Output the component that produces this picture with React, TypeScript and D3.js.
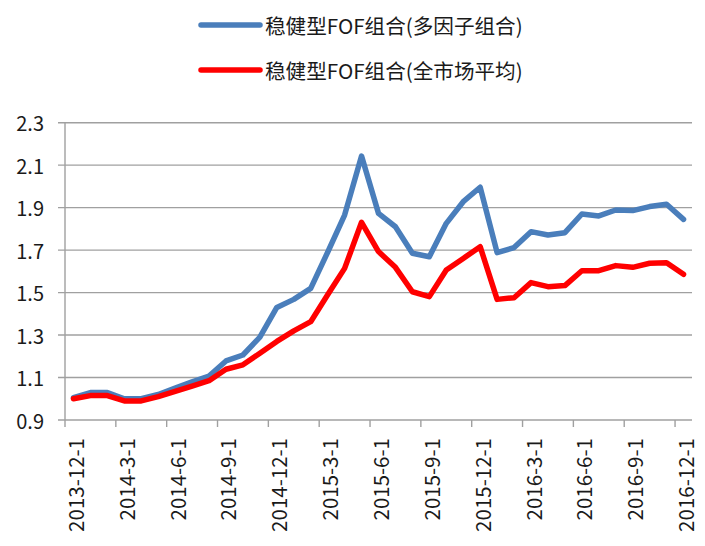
import React from "react";
import * as d3 from "d3";

const months = [
  "2013-12-1","2014-1-1","2014-2-1","2014-3-1","2014-4-1","2014-5-1","2014-6-1","2014-7-1","2014-8-1","2014-9-1","2014-10-1","2014-11-1",
  "2014-12-1","2015-1-1","2015-2-1","2015-3-1","2015-4-1","2015-5-1","2015-6-1","2015-7-1","2015-8-1","2015-9-1","2015-10-1","2015-11-1",
  "2015-12-1","2016-1-1","2016-2-1","2016-3-1","2016-4-1","2016-5-1","2016-6-1","2016-7-1","2016-8-1","2016-9-1","2016-10-1","2016-11-1",
  "2016-12-1",
];

const multiFactor = [
  1.005, 1.029, 1.029, 1.0, 1.0, 1.02, 1.05, 1.08, 1.107, 1.178, 1.206, 1.29,
  1.43, 1.468, 1.52, 1.69, 1.865, 2.143, 1.873, 1.81, 1.685, 1.669, 1.826, 1.928,
  1.996, 1.688, 1.712, 1.787, 1.771, 1.782, 1.87, 1.861, 1.889, 1.886, 1.905, 1.916,
  1.845,
];

const marketAvg = [
  1.0, 1.015, 1.015, 0.99, 0.99, 1.01, 1.035, 1.06, 1.085, 1.139, 1.16, 1.214,
  1.27, 1.32, 1.363, 1.49, 1.614, 1.831, 1.693, 1.619, 1.504, 1.481, 1.606, 1.661,
  1.716, 1.468, 1.476, 1.547, 1.528, 1.533, 1.603, 1.603, 1.627, 1.619, 1.638, 1.641,
  1.586,
];

const yTicks = [0.9, 1.1, 1.3, 1.5, 1.7, 1.9, 2.1, 2.3];

const seriesNames = ["稳健型FOF组合(多因子组合)", "稳健型FOF组合(全市场平均)"];
const seriesColors = ["#4A7EBB", "#FF0000"];

export default function App() {
  const W = 705, H = 546;
  const left = 65, right = 692, top = 122.7, bottom = 420;
  const font = "'Noto Sans CJK SC', 'Noto Sans', sans-serif";

  const x = d3.scaleBand<string>().domain(months).range([left, right]).paddingInner(0).paddingOuter(0);
  const y = d3.scaleLinear().domain([0.9, 2.3]).range([bottom, top]);
  const cx = (m: string) => (x(m) as number) + x.bandwidth() / 2;

  const line = d3
    .line<number>()
    .x((_, i) => cx(months[i]))
    .y((v) => y(v));

  const tickIdx = months.map((_, i) => i).filter((i) => i % 3 === 0);
  const boundaries = tickIdx.map((i) => x(months[i]) as number);

  const series = [multiFactor, marketAvg];

  return (
    <svg width={W} height={H} style={{ position: "absolute", left: 0, top: 0, background: "#fff" }} fontFamily={font}>
      {/* legend */}
      {seriesNames.map((name, k) => (
        <g key={name} transform={`translate(0, ${25 + k * 45})`}>
          <line x1={201} x2={260} y1={0} y2={0} stroke={seriesColors[k]} strokeWidth={5.5} strokeLinecap="round" />
          <text x={265} y={0} dominantBaseline="central" fontSize={20.6} fill="#1a1a1a">
            {name}
          </text>
        </g>
      ))}

      {/* grid */}
      {yTicks.map((t) => (
        <g key={t}>
          <line x1={left - 7} x2={right} y1={y(t)} y2={y(t)} stroke="#A0A0A0" strokeWidth={1.4} />
          <text x={44} y={y(t)} textAnchor="end" dominantBaseline="central" fontSize={20} fill="#1a1a1a">
            {t.toFixed(1)}
          </text>
        </g>
      ))}
      {/* y axis */}
      <line x1={left} x2={left} y1={top} y2={bottom} stroke="#A0A0A0" strokeWidth={1.4} />
      {/* x ticks */}
      {boundaries.map((b, i) => (
        <line key={i} x1={b} x2={b} y1={bottom} y2={bottom + 7} stroke="#A0A0A0" strokeWidth={1.4} />
      ))}
      {tickIdx.map((i) => (
        <text
          key={months[i]}
          transform={`translate(${cx(months[i]) + 1.5}, 438) rotate(-90)`}
          textAnchor="end"
          dominantBaseline="central"
          fontSize={20.5}
          fill="#1a1a1a"
        >
          {months[i]}
        </text>
      ))}

      {/* lines */}
      {series.map((s, k) => (
        <path
          key={k}
          d={line(s) || ""}
          fill="none"
          stroke={seriesColors[k]}
          strokeWidth={5.5}
          strokeLinejoin="round"
          strokeLinecap="round"
        />
      ))}
    </svg>
  );
}
